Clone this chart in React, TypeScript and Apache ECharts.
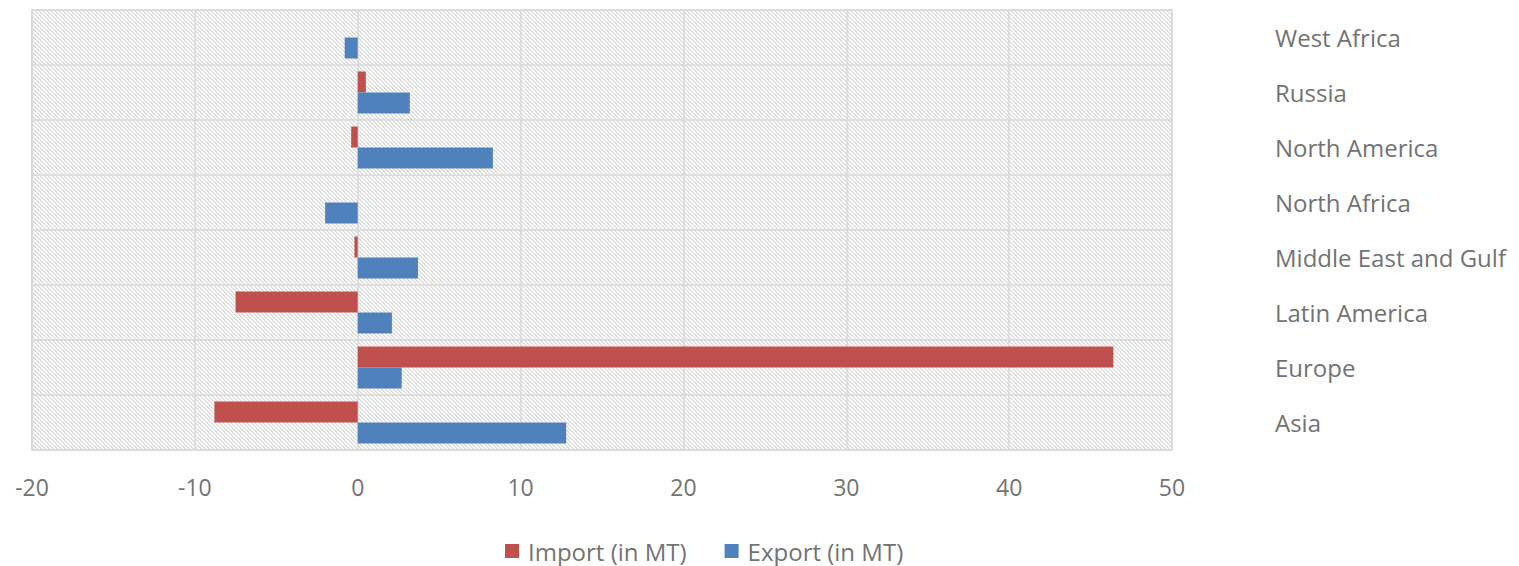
import React, { useEffect, useRef } from "react";
import * as echarts from "echarts";

const regions = [
  "Asia",
  "Europe",
  "Latin America",
  "Middle East and Gulf",
  "North Africa",
  "North America",
  "Russia",
  "West Africa",
];
const importValues = [-8.8, 46.4, -7.5, -0.2, 0, -0.4, 0.5, 0];
const exportValues = [12.8, 2.7, 2.1, 3.7, -2.0, 8.3, 3.2, -0.8];
const xTicks = { min: -20, max: 50, interval: 10 };
const seriesNames = ["Import (in MT)", "Export (in MT)"];

function makeHatch(): string {
  const size = 8;
  const c = document.createElement("canvas");
  c.width = size;
  c.height = size;
  const ctx = c.getContext("2d")!;
  ctx.fillStyle = "#ffffff";
  ctx.fillRect(0, 0, size, size);
  for (let y = 0; y < size; y++) {
    for (let x = 0; x < size; x++) {
      const m = ((x - y) % 4 + 4) % 4;
      if (m === 0) {
        ctx.fillStyle = "#d8d8d8";
        ctx.fillRect(x, y, 1, 1);
      } else if (m === 1) {
        ctx.fillStyle = "#ebebeb";
        ctx.fillRect(x, y, 1, 1);
      }
    }
  }
  return c.toDataURL();
}

export default function App() {
  const ref = useRef<HTMLDivElement>(null);
  useEffect(() => {
    if (!ref.current) return;
    const chart = echarts.init(ref.current, null, { renderer: "svg" });
    const font = "'Open Sans', sans-serif";
    const textColor = "#737373";
    chart.setOption({
      animation: false,
      textStyle: { fontFamily: font },
      grid: {
        show: true,
        left: 32,
        top: 10,
        width: 1140,
        height: 440,
        backgroundColor: { image: makeHatch(), repeat: "repeat" },
        borderColor: "#d9d9d9",
        borderWidth: 1.5,
      },
      legend: {
        data: seriesNames,
        left: 500,
        top: 534,
        icon: "rect",
        itemWidth: 14,
        itemHeight: 14,
        itemGap: 38,
        textStyle: {
          fontSize: 24,
          color: textColor,
          fontFamily: font,
          padding: [0, 0, 0, 4],
        },
      },
      xAxis: {
        type: "value",
        min: xTicks.min,
        max: xTicks.max,
        interval: xTicks.interval,
        axisLine: { show: false },
        axisTick: { show: false },
        splitLine: { show: true, lineStyle: { color: "#d9d9d9", width: 1.5 } },
        axisLabel: { fontSize: 23, color: textColor, margin: 25, fontFamily: font },
      },
      yAxis: {
        type: "category",
        data: regions,
        position: "right",
        axisLine: { show: false },
        axisTick: { show: false },
        splitLine: { show: true, lineStyle: { color: "#d9d9d9", width: 1.5 } },
        axisLabel: {
          fontSize: 24,
          color: textColor,
          align: "left",
          margin: 103,
          fontFamily: font,
        },
      },
      series: [
        {
          name: seriesNames[0],
          type: "bar",
          data: importValues,
          barWidth: 21,
          barGap: "0%",
          itemStyle: { color: "#C0504D" },
        },
        {
          name: seriesNames[1],
          type: "bar",
          data: exportValues,
          barWidth: 21,
          barGap: "0%",
          itemStyle: { color: "#4F81BD" },
        },
      ],
    });
    return () => chart.dispose();
  }, []);
  return (
    <div
      ref={ref}
      style={{ position: "absolute", left: 0, top: 0, width: 1519, height: 566 }}
    />
  );
}
